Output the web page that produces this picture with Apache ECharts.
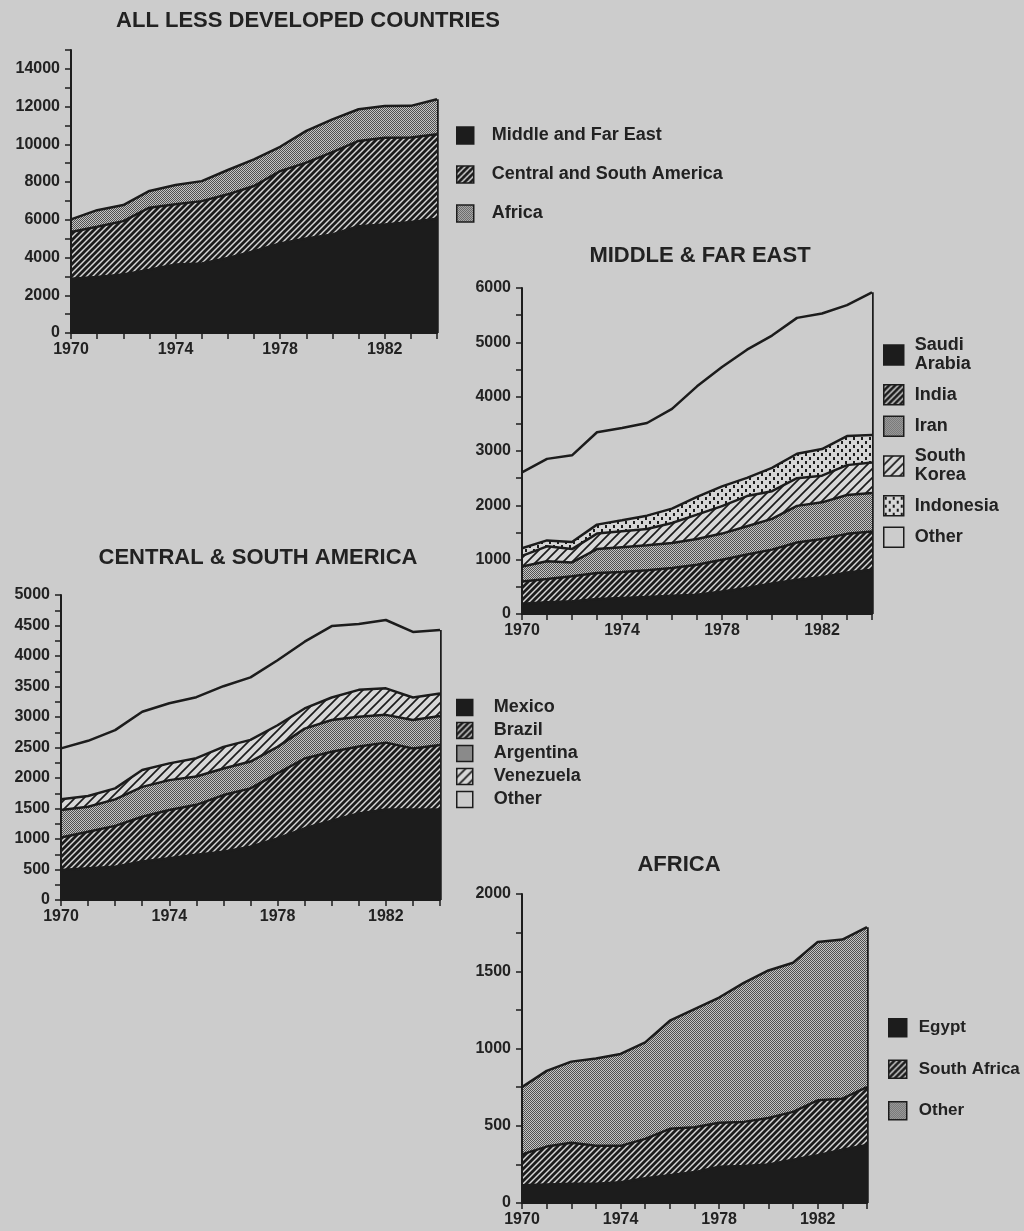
<!DOCTYPE html>
<html>
<head>
<meta charset="utf-8">
<script src="https://cdn.jsdelivr.net/npm/echarts@6.0.0/dist/echarts.min.js"></script>
<style>
  html, body { margin: 0; padding: 0; background: #cccccc; }
  #main { width: 1024px; height: 1231px; }
</style>
</head>
<body>
<div id="main"></div>
<script>
  var years = ['1970','1971','1972','1973','1974','1975','1976','1977','1978','1979','1980','1981','1982','1983','1984'];

  // all less developed countries
  var ldcMidFarEast = [2870,2970,3100,3360,3630,3680,3980,4340,4740,5010,5220,5660,5750,5880,6050];
  var ldcCentSouthAm = [2480,2660,2830,3280,3190,3310,3370,3450,3840,4020,4370,4520,4600,4480,4480];
  var ldcAfrica = [670,880,850,890,1020,1060,1290,1410,1290,1680,1730,1680,1680,1680,1860];

  // middle & far east
  var saudi = [190,215,235,275,295,315,335,355,415,480,560,630,675,765,815];
  var india = [410,430,460,480,480,490,510,550,585,615,625,685,705,710,705];
  var iran = [275,325,255,440,455,460,460,475,480,520,565,675,675,715,705];
  var korea = [195,275,245,285,295,300,370,450,505,555,510,510,490,550,565];
  var indonesia = [140,110,130,165,200,245,265,325,365,335,430,450,490,535,505];
  var otherMfe = [1395,1500,1595,1700,1700,1705,1835,2035,2195,2360,2435,2500,2495,2410,2625];

  // central & south america
  var mexico = [490,520,545,630,685,740,790,875,1010,1175,1300,1420,1485,1485,1485];
  var brazil = [535,600,670,735,790,820,930,955,1065,1145,1130,1095,1095,1000,1055];
  var argentina = [450,410,435,490,490,465,435,440,435,490,520,490,455,465,475];
  var venezuela = [175,175,180,275,275,300,355,355,355,330,370,440,435,370,370];
  var otherCsa = [835,905,955,955,985,1000,995,1025,1065,1095,1170,1080,1120,1075,1040];

  // africa
  var egypt = [115,120,125,125,135,160,180,200,235,240,250,280,310,345,375];
  var southAfrica = [200,245,265,245,235,255,300,290,285,285,300,310,355,330,375];
  var otherAfr = [435,490,525,565,595,625,700,765,810,900,955,965,1025,1030,1035];

  var FONT = '"Liberation Sans", Arial, sans-serif';
  var INK = '#1c1c1c';
  var BG = '#cccccc';

  // fill patterns (scan style)
  function pattern(size, draw) {
    var c = document.createElement('canvas');
    c.width = size; c.height = size;
    draw(c.getContext('2d'), size);
    return { image: c, repeat: 'repeat' };
  }
  function hatch(size, bg, lw) {
    return pattern(size, function (ctx, s) {
      ctx.fillStyle = bg; ctx.fillRect(0, 0, s, s);
      ctx.strokeStyle = INK; ctx.lineWidth = lw;
      ctx.beginPath();
      ctx.moveTo(-1, 1); ctx.lineTo(1, -1);
      ctx.moveTo(0, s); ctx.lineTo(s, 0);
      ctx.moveTo(s - 1, s + 1); ctx.lineTo(s + 1, s - 1);
      ctx.stroke();
    });
  }
  var SOLID = INK;
  var HATCH = hatch(6, '#d6d6d6', 2.8);
  var LIGHTHATCH = hatch(9, '#d8d8d8', 1.7);
  var STIPPLE = pattern(2, function (ctx) {
    ctx.fillStyle = '#c4c4c4'; ctx.fillRect(0, 0, 2, 2);
    ctx.fillStyle = '#505050'; ctx.fillRect(0, 0, 1, 1); ctx.fillRect(1, 1, 1, 1);
  });
  var DOTS = pattern(8, function (ctx) {
    ctx.fillStyle = '#d6d6d6'; ctx.fillRect(0, 0, 8, 8);
    ctx.fillStyle = INK; ctx.fillRect(1, 1, 2, 3); ctx.fillRect(5, 5, 2, 3);
  });
  var PLAIN = BG;

  var shownName = {
    'Saudi Arabia': 'Saudi\nArabia',
    'South Korea': 'South\nKorea',
    'Other (MFE)': 'Other',
    'Other (CSA)': 'Other',
    'Other (AFR)': 'Other'
  };

  function sumLast(arrs) {
    var t = 0;
    arrs.forEach(function (a) { t += a[a.length - 1]; });
    return t;
  }

  function xAxis(g) {
    return {
      type: 'category', gridIndex: g, data: years, boundaryGap: false, z: 20,
      axisLine: { lineStyle: { color: INK, width: 2 } },
      axisTick: { interval: 0, length: 6, lineStyle: { color: INK, width: 1.5 } },
      axisLabel: { interval: 3, margin: 9, fontSize: 16, fontWeight: 'bold', color: '#222', fontFamily: FONT },
      splitLine: { show: false }
    };
  }
  function yAxis(g, max, step, labelStep) {
    return {
      type: 'value', gridIndex: g, min: 0, max: max, interval: step, z: 20,
      axisLine: { show: true, lineStyle: { color: INK, width: 2 } },
      axisTick: { show: true, length: 6, lineStyle: { color: INK, width: 1.5 } },
      axisLabel: {
        margin: 11, fontSize: 16, fontWeight: 'bold', color: '#222', fontFamily: FONT,
        formatter: function (v) { return v % labelStep === 0 ? String(v) : ''; }
      },
      splitLine: { show: false }
    };
  }

  var series = [];
  function addGroup(g, stackName, names, arrays, fills) {
    var total = sumLast(arrays);
    names.forEach(function (n, i) {
      var s = {
        name: n, type: 'line', xAxisIndex: g, yAxisIndex: g, stack: stackName,
        data: arrays[i], symbol: 'none', showSymbol: false, z: 12 - i,
        lineStyle: { color: INK, width: 2.5 },
        areaStyle: { color: fills[i], opacity: 1 },
        emphasis: { disabled: true }, silent: true
      };
      if (i === names.length - 1) {
        s.markLine = {
          silent: true, symbol: 'none', label: { show: false },
          lineStyle: { color: INK, width: 2.5, type: 'solid' },
          data: [[{ coord: [years.length - 1, 0] }, { coord: [years.length - 1, total] }]]
        };
      }
      series.push(s);
    });
  }

  function legend(left, top, box, gap, padLeft, fontSize, names, fills) {
    return {
      orient: 'vertical', left: left, top: top, padding: 0,
      icon: 'rect', itemWidth: box, itemHeight: box, itemGap: gap,
      selectedMode: false,
      itemStyle: { borderColor: INK, borderWidth: 1.5 },
      textStyle: { fontSize: fontSize, fontWeight: 'bold', color: '#222', fontFamily: FONT, lineHeight: 19, padding: [0, 0, 0, padLeft] },
      formatter: function (n) { return shownName[n] || n; },
      data: names.map(function (n, i) { return { name: n, itemStyle: { color: fills[i] } }; })
    };
  }

  var n1 = ['Middle and Far East', 'Central and South America', 'Africa'];
  var f1 = [SOLID, HATCH, STIPPLE];
  addGroup(0, 'ldc', n1, [ldcMidFarEast, ldcCentSouthAm, ldcAfrica], f1);

  var n2 = ['Saudi Arabia', 'India', 'Iran', 'South Korea', 'Indonesia', 'Other (MFE)'];
  var f2 = [SOLID, HATCH, STIPPLE, LIGHTHATCH, DOTS, PLAIN];
  addGroup(1, 'mfe', n2, [saudi, india, iran, korea, indonesia, otherMfe], f2);

  var n3 = ['Mexico', 'Brazil', 'Argentina', 'Venezuela', 'Other (CSA)'];
  var f3 = [SOLID, HATCH, STIPPLE, LIGHTHATCH, PLAIN];
  addGroup(2, 'csa', n3, [mexico, brazil, argentina, venezuela, otherCsa], f3);

  var n4 = ['Egypt', 'South Africa', 'Other (AFR)'];
  var f4 = [SOLID, HATCH, STIPPLE];
  addGroup(3, 'afr', n4, [egypt, southAfrica, otherAfr], f4);

  var titleStyle = { fontSize: 22, fontWeight: 'bold', color: '#222', fontFamily: FONT };

  var myChart = echarts.init(document.getElementById('main'), null, { renderer: 'canvas' });
  myChart.setOption({
    backgroundColor: BG,
    animation: false,
    title: [
      { text: 'ALL LESS DEVELOPED COUNTRIES', left: 308, top: 10, textAlign: 'center', padding: 0, textStyle: titleStyle },
      { text: 'MIDDLE & FAR EAST', left: 700, top: 245, textAlign: 'center', padding: 0, textStyle: titleStyle },
      { text: 'CENTRAL & SOUTH AMERICA', left: 258, top: 547, textAlign: 'center', padding: 0, textStyle: titleStyle },
      { text: 'AFRICA', left: 679, top: 854, textAlign: 'center', padding: 0, textStyle: titleStyle }
    ],
    grid: [
      { left: 71, top: 50, width: 366, height: 283, outerBoundsMode: 'none' },
      { left: 522, top: 288, width: 350, height: 326, outerBoundsMode: 'none' },
      { left: 61, top: 595, width: 379, height: 305, outerBoundsMode: 'none' },
      { left: 522, top: 894, width: 345, height: 309, outerBoundsMode: 'none' }
    ],
    xAxis: [xAxis(0), xAxis(1), xAxis(2), xAxis(3)],
    yAxis: [
      yAxis(0, 15000, 1000, 2000),
      yAxis(1, 6000, 500, 1000),
      yAxis(2, 5000, 250, 500),
      yAxis(3, 2000, 250, 500)
    ],
    legend: [
      legend(456, 126, 17, 20, 13, 18, n1, f1),
      legend(883, 336, 20, 10, 6, 18, n2, f2),
      legend(456, 698, 16, 4, 16, 18, n3, f3),
      legend(888, 1018, 18, 22, 7, 17, n4, f4)
    ],
    series: series
  });
</script>
</body>
</html>
